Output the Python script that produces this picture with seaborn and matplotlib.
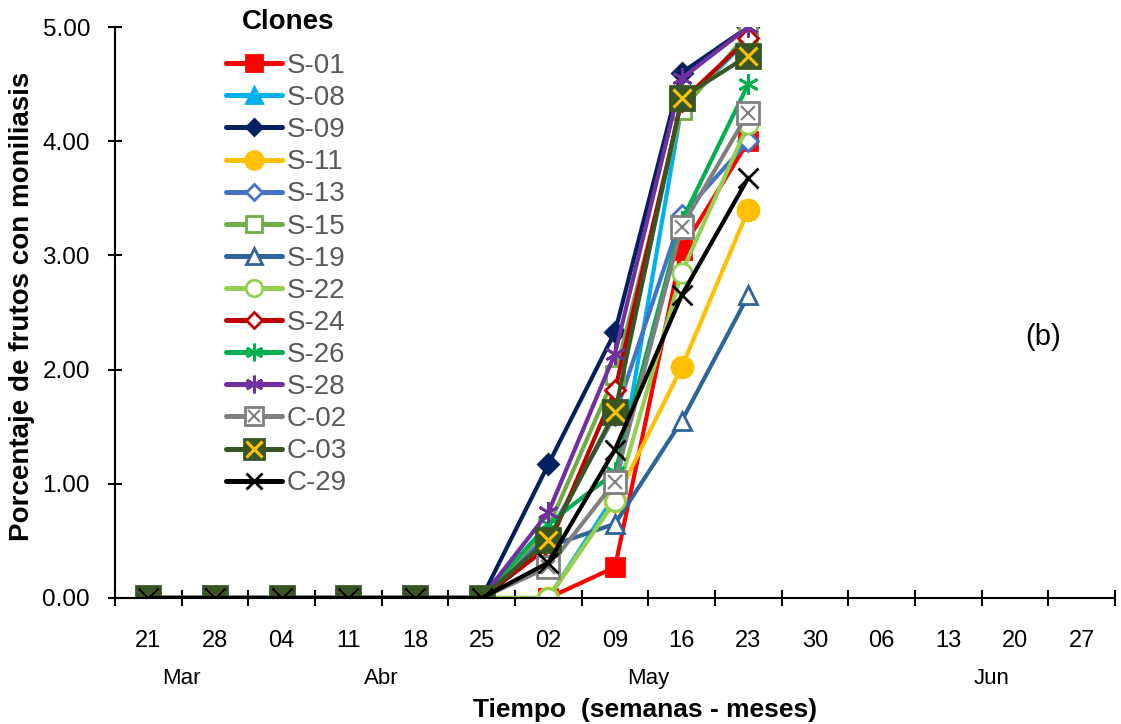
import numpy as np
import pandas as pd
import matplotlib
matplotlib.use("Agg")
import matplotlib.pyplot as plt
import seaborn as sns
from matplotlib.lines import Line2D

weeks = ["21", "28", "04", "11", "18", "25", "02", "09", "16", "23", "30", "06", "13", "20", "27"]
months = ["Mar", "Abr", "May", "Jun"]
month_pos = [0.5, 3.5, 7.5, 12.65]

nan = np.nan
clones = ["S-01", "S-08", "S-09", "S-11", "S-13", "S-15", "S-19", "S-22",
          "S-24", "S-26", "S-28", "C-02", "C-03", "C-29"]
z6 = [0, 0, 0, 0, 0, 0]
tail = [nan, nan, nan, nan, nan]
s01 = z6 + [0.00, 0.27, 3.05, 4.00] + tail
s08 = z6 + [0.00, 0.90, 4.30, 4.90] + tail
s09 = z6 + [1.17, 2.33, 4.60, 5.00] + tail
s11 = z6 + [0.00, 0.85, 2.02, 3.40] + tail
s13 = z6 + [0.55, 1.60, 3.35, 4.00] + tail
s15 = z6 + [0.62, 1.95, 4.27, 4.95] + tail
s19 = z6 + [0.45, 0.65, 1.55, 2.65] + tail
s22 = z6 + [0.00, 0.85, 2.85, 4.15] + tail
s24 = z6 + [0.45, 1.82, 4.35, 4.90] + tail
s26 = z6 + [0.65, 1.10, 3.30, 4.50] + tail
s28 = z6 + [0.75, 2.14, 4.55, 5.00] + tail
c02 = z6 + [0.27, 1.02, 3.25, 4.25] + tail
c03 = z6 + [0.51, 1.63, 4.38, 4.75] + tail
c29 = z6 + [0.31, 1.30, 2.65, 3.68] + tail
values = [s01, s08, s09, s11, s13, s15, s19, s22, s24, s26, s28, c02, c03, c29]

colors = ["#FF0000", "#00B0F0", "#002060", "#FFC000", "#4472C4", "#70AD47", "#2E6598",
          "#92D050", "#C00000", "#00B050", "#7030A0", "#7F7F7F", "#375623", "#000000"]

# marker styles: (marker, facecolor, size)
styles = {
    "S-01": ("s", None, 13),
    "S-08": ("^", None, 13),
    "S-09": ("D", None, 10),
    "S-11": ("o", None, 15),
    "S-13": ("D", "white", 10),
    "S-15": ("s", "white", 13),
    "S-19": ("^", "white", 13),
    "S-22": ("o", "white", 14),
    "S-24": ("D", "white", 10),
    "S-26": ((6, 2, 0), None, 15),
    "S-28": ((6, 2, 0), None, 15),
    "C-02": ("s", "white", 16),
    "C-03": ("s", None, 17),
    "C-29": ("x", None, 14),
}

rows = []
for name, vals in zip(clones, values):
    for i, v in enumerate(vals):
        rows.append({"clone": name, "x": i, "y": v})
df = pd.DataFrame(rows)

sns.set_style("white")
plt.rcParams["font.family"] = ["Liberation Sans", "DejaVu Sans"]
plt.rcParams["text.color"] = "black"
plt.rcParams["xtick.color"] = "black"
plt.rcParams["ytick.color"] = "black"

fig = plt.figure(figsize=(11.21, 7.24), dpi=100)
ax = fig.add_axes([115 / 1121, 1 - 598 / 724, 1000 / 1121, 571 / 724])

lw = 3.0
handles = []
for name, col in zip(clones, colors):
    d = df[(df.clone == name)].dropna()
    mk, fc, ms = styles[name]
    mfc = col if fc is None else fc
    mew = 2.0
    sns.lineplot(data=d, x="x", y="y", ax=ax, color=col, linewidth=lw,
                 marker=mk, markersize=ms, markerfacecolor=mfc,
                 markeredgecolor=col, markeredgewidth=mew, legend=False)
    h = Line2D([], [], color=col, linewidth=lw + 0.6, marker=mk, markersize=ms * 0.85,
               markerfacecolor=mfc, markeredgecolor=col, markeredgewidth=mew,
               solid_capstyle="round")
    if name == "C-02":
        sns.lineplot(data=d, x="x", y="y", ax=ax, color=col, linestyle="",
                     marker="x", markersize=ms * 0.6, markeredgecolor=col,
                     markeredgewidth=1.5, legend=False)
        h = (h, Line2D([], [], linestyle="", marker="x", markersize=ms * 0.5,
                       markeredgecolor=col, markeredgewidth=1.5))
    if name == "C-03":
        sns.lineplot(data=d, x="x", y="y", ax=ax, color="#FFC000", linestyle="",
                     marker="x", markersize=ms * 0.75, markeredgecolor="#FFC000",
                     markeredgewidth=2.2, legend=False)
        h = (h, Line2D([], [], linestyle="", marker="x", markersize=ms * 0.65,
                       markeredgecolor="#FFC000", markeredgewidth=2.2))
    handles.append(h)

ax.set_xlim(-0.5, len(weeks) - 0.5)
ax.set_ylim(0, 5)
ax.set_xticks(range(len(weeks)))
ax.set_xticklabels(weeks, fontsize=17)
ax.set_xticks(np.arange(-0.5, len(weeks), 1.0), minor=True)
ax.tick_params(axis="x", which="major", length=0, pad=23, bottom=True)
ax.tick_params(axis="x", which="minor", length=12, width=1.5, direction="inout",
               color="black", bottom=True)
ax.set_yticks(np.arange(0, 5.01, 1.0))
ax.set_yticklabels([f"{v:.2f}" for v in np.arange(0, 5.01, 1.0)], fontsize=17.5)
ax.tick_params(axis="y", which="major", length=10, width=1.5, direction="inout",
               color="black", pad=13, left=True)
ax.set_xlabel("")
ax.set_ylabel("")
for s in ["top", "right"]:
    ax.spines[s].set_visible(False)
for s in ["left", "bottom"]:
    ax.spines[s].set_color("black")
    ax.spines[s].set_linewidth(1.5)

for m, p in zip(months, month_pos):
    ax.text(p, -0.1405, m, transform=ax.get_xaxis_transform(), ha="center", va="center", fontsize=16)

fig.text(645 / 1121, 1 - 710 / 724, "Tiempo  (semanas - meses)", ha="center", va="center",
         fontsize=19, fontweight="bold")
fig.text(22 / 1121, 1 - 306 / 724, "Porcentaje de frutos con moniliasis", ha="center", va="center",
         rotation=90, fontsize=20, fontweight="bold")
fig.text(1043 / 1121, 1 - 337 / 724, "(b)", ha="center", va="center", fontsize=21)
fig.text(288 / 1121, 1 - 22 / 724, "Clones", ha="center", va="center", fontsize=20,
         fontweight="bold")

leg = ax.legend(handles=handles, labels=clones, loc="upper left",
                bbox_to_anchor=(226 / 1121, 1 - 53 / 724), bbox_transform=fig.transFigure,
                frameon=False, fontsize=20, handlelength=2.0, handletextpad=0.2,
                labelspacing=0.22, borderaxespad=0, borderpad=0)
for t in leg.get_texts():
    t.set_color("#595959")

fig.savefig("out.png", dpi=100)
